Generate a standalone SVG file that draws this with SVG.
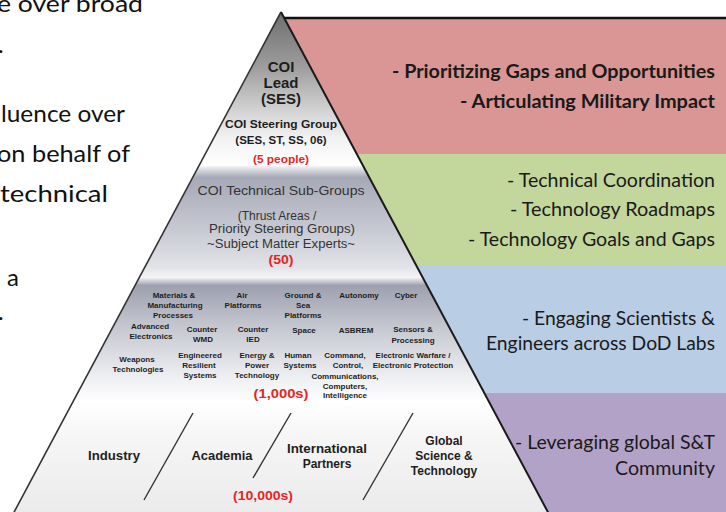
<svg xmlns="http://www.w3.org/2000/svg" width="726" height="512" viewBox="0 0 726 512">
<style>
.lt{font-family:Lato,"Open Sans",sans-serif;font-size:24px;fill:#111}
.rt{font-family:Lato,"Open Sans",sans-serif;font-size:18.5px;fill:#1a1a1a}
.rb{font-weight:bold}
.pb{font-family:"Liberation Sans",Arial,sans-serif;font-weight:bold;fill:#1e1e1e;text-anchor:middle}
.pr{font-family:"Liberation Sans",Arial,sans-serif;fill:#333;text-anchor:middle}
.red{fill:#e32626}
.s8{font-size:8px}
.s11{font-size:11.5px}
.s12{font-size:12px}
.s13{font-size:13px}
.s15{font-size:15px}
.div{stroke:#333;stroke-width:1.4;fill:none}
</style>
<defs>
<clipPath id="pyr"><polygon points="281,12 552,520 10,520"/></clipPath>
<linearGradient id="g1" x1="0" y1="12" x2="0" y2="166" gradientUnits="userSpaceOnUse">
<stop offset="0" stop-color="#6e6e6e"/><stop offset="0.35" stop-color="#9c9c9c"/><stop offset="0.62" stop-color="#cfcfcf"/><stop offset="0.82" stop-color="#f2f2f2"/><stop offset="1" stop-color="#ffffff"/>
</linearGradient>
<linearGradient id="g2" x1="0" y1="166" x2="0" y2="278" gradientUnits="userSpaceOnUse">
<stop offset="0" stop-color="#f4f4f6"/><stop offset="0.1" stop-color="#a6a9b6"/><stop offset="0.5" stop-color="#c2c4ce"/><stop offset="0.9" stop-color="#e2e3e8"/><stop offset="1" stop-color="#f5f5f7"/>
</linearGradient>
<linearGradient id="g3" x1="0" y1="278" x2="0" y2="402" gradientUnits="userSpaceOnUse">
<stop offset="0" stop-color="#eeeef2"/><stop offset="0.06" stop-color="#9da0ae"/><stop offset="0.4" stop-color="#c6c8d1"/><stop offset="0.8" stop-color="#eeeff2"/><stop offset="1" stop-color="#ffffff"/>
</linearGradient>
<linearGradient id="g4" x1="0" y1="402" x2="0" y2="512" gradientUnits="userSpaceOnUse">
<stop offset="0" stop-color="#ffffff"/><stop offset="0.3" stop-color="#f6f6f6"/><stop offset="1" stop-color="#ebebeb"/>
</linearGradient>
</defs>
<rect width="726" height="512" fill="#ffffff"/>

<g id="left-text">
<text class="lt" x="-3" y="12" textLength="146" lengthAdjust="spacingAndGlyphs">e over broad</text>
<text class="lt" x="-2" y="53">.</text>
<text class="lt" x="1" y="122" textLength="124" lengthAdjust="spacingAndGlyphs">luence over</text>
<text class="lt" x="-3" y="162" textLength="133" lengthAdjust="spacingAndGlyphs">on behalf of</text>
<text class="lt" x="0" y="202" textLength="108" lengthAdjust="spacingAndGlyphs">technical</text>
<text class="lt" x="7" y="286">a</text>
<text class="lt" x="-2" y="320">.</text>
</g>

<g id="band-priorities">
<polygon points="284,18 726,18 726,154 357,154" fill="#d99694"/>
<text class="rt rb" x="392" y="78" textLength="323" lengthAdjust="spacingAndGlyphs">- Prioritizing Gaps and Opportunities</text>
<text class="rt rb" x="460" y="108" textLength="255" lengthAdjust="spacingAndGlyphs">- Articulating Military Impact</text>
</g>
<g id="band-coordination">
<polygon points="357,154 726,154 726,266 417,266" fill="#c3d69b"/>
<text class="rt" x="507" y="187" textLength="208" lengthAdjust="spacingAndGlyphs">- Technical Coordination</text>
<text class="rt" x="510" y="216" textLength="205" lengthAdjust="spacingAndGlyphs">- Technology Roadmaps</text>
<text class="rt" x="468" y="246" textLength="247" lengthAdjust="spacingAndGlyphs">- Technology Goals and Gaps</text>
</g>
<g id="band-engaging">
<polygon points="417,266 726,266 726,393 485,393" fill="#b9cde5"/>
<text class="rt" x="522" y="325" textLength="193" lengthAdjust="spacingAndGlyphs">- Engaging Scientists &amp;</text>
<text class="rt" x="486" y="350" textLength="229" lengthAdjust="spacingAndGlyphs">Engineers across DoD Labs</text>
</g>
<g id="band-leveraging">
<polygon points="485,393 726,393 726,512 548,512" fill="#b3a2c7"/>
<text class="rt" x="515" y="449" textLength="200" lengthAdjust="spacingAndGlyphs">- Leveraging global S&amp;T</text>
<text class="rt" x="615" y="475" textLength="100" lengthAdjust="spacingAndGlyphs">Community</text>
</g>
<line x1="284" y1="18" x2="726" y2="18" stroke="#111" stroke-width="2.5"/>

<g id="pyramid">
<g clip-path="url(#pyr)">
<rect x="0" y="0" width="726" height="166" fill="url(#g1)"/>
<rect x="0" y="166" width="726" height="112" fill="url(#g2)"/>
<rect x="0" y="278" width="726" height="124" fill="url(#g3)"/>
<rect x="0" y="402" width="726" height="118" fill="url(#g4)"/>
</g>
<line x1="281" y1="12" x2="12" y2="516" stroke="#333" stroke-width="1.6"/>
<line x1="281" y1="12" x2="550" y2="516" stroke="#1a1a1a" stroke-width="2"/>
</g>

<g id="tier-lead">
<text class="pb s15" x="281" y="72">COI</text>
<text class="pb s15" x="281" y="88">Lead</text>
<text class="pb s15" x="281" y="104">(SES)</text>
<text class="pb s11" x="281" y="128" textLength="112" lengthAdjust="spacingAndGlyphs">COI Steering Group</text>
<text class="pb s11" x="281" y="144">(SES, ST, SS, 06)</text>
<text class="pb s11 red" x="281" y="163" textLength="56" lengthAdjust="spacingAndGlyphs">(5 people)</text>
</g>

<g id="tier-subgroups">
<text class="pr s13" x="281" y="195" textLength="167" lengthAdjust="spacingAndGlyphs">COI Technical Sub-Groups</text>
<text class="pr s12" x="277" y="220">(Thrust Areas /</text>
<text class="pr s12" x="282" y="233" textLength="146" lengthAdjust="spacingAndGlyphs">Priority Steering Groups)</text>
<text class="pr s12" x="281" y="248" textLength="148" lengthAdjust="spacingAndGlyphs">~Subject Matter Experts~</text>
<text class="pb s13 red" x="281" y="264" textLength="25" lengthAdjust="spacingAndGlyphs">(50)</text>
</g>

<g id="tier-thrust-areas">
<text class="pb s8" x="174" y="298">Materials &amp;</text>
<text class="pb s8" x="175" y="308">Manufacturing</text>
<text class="pb s8" x="173" y="318">Processes</text>
<text class="pb s8" x="242" y="298">Air</text>
<text class="pb s8" x="243" y="308">Platforms</text>
<text class="pb s8" x="303" y="298">Ground &amp;</text>
<text class="pb s8" x="303" y="308">Sea</text>
<text class="pb s8" x="303" y="318">Platforms</text>
<text class="pb s8" x="359" y="298">Autonomy</text>
<text class="pb s8" x="406" y="298">Cyber</text>
<text class="pb s8" x="150" y="329">Advanced</text>
<text class="pb s8" x="151" y="339">Electronics</text>
<text class="pb s8" x="202" y="332">Counter</text>
<text class="pb s8" x="203" y="342">WMD</text>
<text class="pb s8" x="253" y="332">Counter</text>
<text class="pb s8" x="253" y="342">IED</text>
<text class="pb s8" x="304" y="333">Space</text>
<text class="pb s8" x="356" y="333">ASBREM</text>
<text class="pb s8" x="413" y="332">Sensors &amp;</text>
<text class="pb s8" x="413" y="343">Processing</text>
<text class="pb s8" x="137" y="362">Weapons</text>
<text class="pb s8" x="138" y="372">Technologies</text>
<text class="pb s8" x="200" y="358">Engineered</text>
<text class="pb s8" x="199" y="368">Resilient</text>
<text class="pb s8" x="200" y="378">Systems</text>
<text class="pb s8" x="257" y="358">Energy &amp;</text>
<text class="pb s8" x="257" y="368">Power</text>
<text class="pb s8" x="257" y="378">Technology</text>
<text class="pb s8" x="298" y="358">Human</text>
<text class="pb s8" x="300" y="368">Systems</text>
<text class="pb s8" x="345" y="358">Command,</text>
<text class="pb s8" x="348" y="368">Control,</text>
<text class="pb s8" x="345" y="379">Communications,</text>
<text class="pb s8" x="345" y="389">Computers,</text>
<text class="pb s8" x="345" y="398">Intelligence</text>
<text class="pb s8" x="413" y="358">Electronic Warfare /</text>
<text class="pb s8" x="413" y="368">Electronic Protection</text>
<text class="pb s13 red" x="281" y="398" textLength="55" lengthAdjust="spacingAndGlyphs">(1,000s)</text>
</g>

<g id="tier-community">
<text class="pb s12" x="114" y="460" textLength="52" lengthAdjust="spacingAndGlyphs">Industry</text>
<text class="pb s12" x="222" y="460" textLength="61" lengthAdjust="spacingAndGlyphs">Academia</text>
<text class="pb s12" x="327" y="453" textLength="80" lengthAdjust="spacingAndGlyphs">International</text>
<text class="pb s12" x="327" y="468">Partners</text>
<text class="pb s12" x="444" y="445">Global</text>
<text class="pb s12" x="444" y="460">Science &amp;</text>
<text class="pb s12" x="444" y="475">Technology</text>
<text class="pb s13 red" x="263" y="500" textLength="60" lengthAdjust="spacingAndGlyphs">(10,000s)</text>
</g>

<g id="connectors">
<line class="div" x1="193" y1="413" x2="144" y2="500"/>
<line class="div" x1="291" y1="413" x2="253" y2="478"/>
<line class="div" x1="413" y1="413" x2="363" y2="500"/>
</g>
</svg>
